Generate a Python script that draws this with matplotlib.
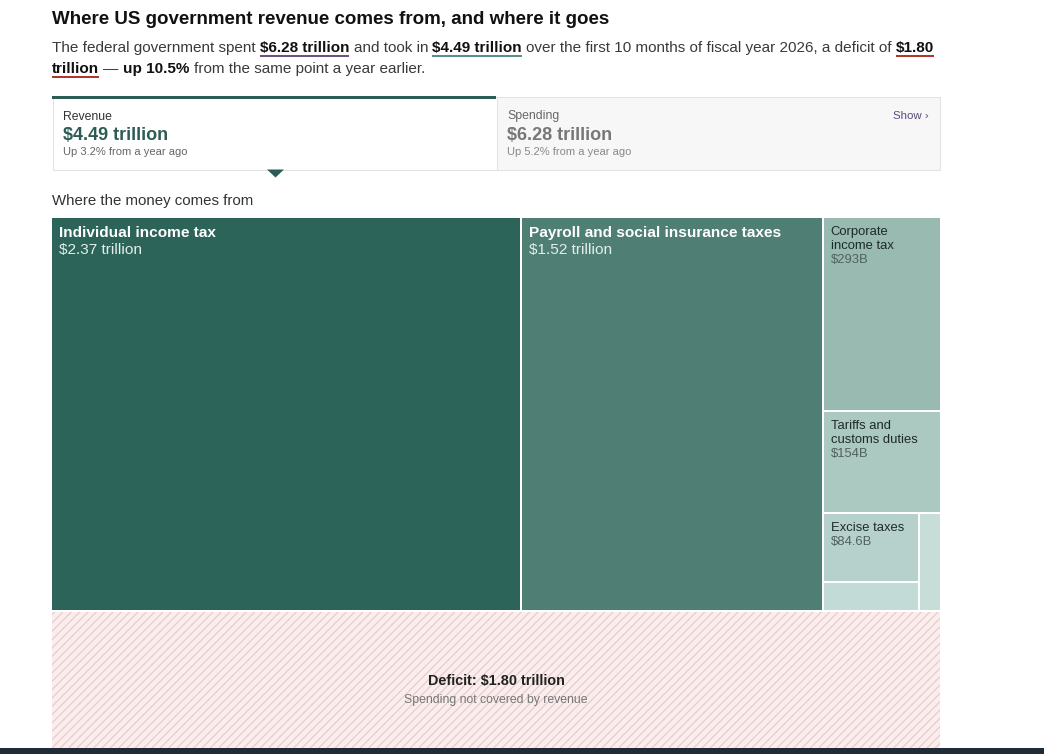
import matplotlib
matplotlib.use("Agg")
import matplotlib.pyplot as plt
from matplotlib.patches import Rectangle, Polygon

plt.rcParams['font.family'] = ['Liberation Sans', 'DejaVu Sans']
plt.rcParams['hatch.linewidth'] = 0.8

# data (trillions of dollars)
revenue_total = 4.49
spending_total = 6.28
deficit = 1.80
categories = ['Individual income tax', 'Payroll and social insurance taxes',
              'Corporate\nincome tax', 'Tariffs and\ncustoms duties',
              'Excise taxes', 'Miscellaneous receipts', 'Estate and gift taxes']
values = [2.37, 1.52, 0.293, 0.154, 0.0846, 0.036, 0.028]
value_labels = ['$2.37 trillion', '$1.52 trillion', '$293B', '$154B', '$84.6B', '', '']
colors = ['#2d6459', '#4f7f74', '#99bab1', '#abc8c1', '#b6d1cb', '#c3dbd6', '#c6ddd8']
big = [True, True, False, False, False, None, None]


def squarify(vals, x0, y0, x1, y1, ratio=(1 + 5 ** 0.5) / 2):
    # same idea as d3.treemapSquarify
    out = [None] * len(vals)
    value = sum(vals)
    i0 = i1 = 0
    n = len(vals)
    while i0 < n:
        dx, dy = x1 - x0, y1 - y0
        s = vals[i1]; i1 += 1
        mn = mx = s
        alpha = max(dy / dx, dx / dy) / (value * ratio)
        beta = s * s * alpha
        min_ratio = max(mx / beta, beta / mn)
        while i1 < n:
            v = vals[i1]
            s += v
            mn, mx = min(mn, v), max(mx, v)
            beta = s * s * alpha
            r = max(mx / beta, beta / mn)
            if r > min_ratio:
                s -= v
                break
            min_ratio = r
            i1 += 1
        idx = list(range(i0, i1))
        if dx < dy:
            ny = y0 + dy * s / value
            cx = x0
            for k in idx:
                w = (x1 - x0) * vals[k] / s
                out[k] = (cx, y0, cx + w, ny)
                cx += w
            y0 = ny
        else:
            nx = x0 + dx * s / value
            cy = y0
            for k in idx:
                h = (y1 - y0) * vals[k] / s
                out[k] = (x0, cy, nx, cy + h)
                cy += h
            x0 = nx
        value -= s
        i0 = i1
    return out


def px(size):
    return size * 0.72


fig = plt.figure(figsize=(10.44, 7.54), dpi=100)
ax = fig.add_axes([0, 0, 1, 1])
ax.set_xlim(0, 1044)
ax.set_ylim(754, 0)
ax.axis('off')
renderer = fig.canvas.get_renderer()


def width_of(t):
    return t.get_window_extent(renderer).width


# title
ax.text(52, 24.5, 'Where US government revenue comes from, and where it goes',
        fontsize=px(18.8), fontweight='bold', color='#111111', va='baseline')

# subtitle with bold / underlined parts
sub_size = px(15.3)
probe = ax.text(0, -50, 'a a', fontsize=sub_size)
probe2 = ax.text(0, -50, 'aa', fontsize=sub_size)
space_w = width_of(probe) - width_of(probe2)
probe.remove(); probe2.remove()

purple, teal, red = '#6a5283', '#5a9089', '#b0372c'
lines = [
    [('The federal government spent', False, None), (' ', False, None),
     ('$6.28 trillion', True, purple), (' ', False, None),
     ('and took in', False, None), (' ', False, None),
     ('$4.49 trillion', True, teal), (' ', False, None),
     ('over the first 10 months of fiscal year 2026, a deficit of', False, None),
     (' ', False, None), ('$1.80', True, red)],
    [('trillion', True, red), (' ', False, None), ('—', False, None), (' ', False, None),
     ('up 10.5%', True, None), (' ', False, None),
     ('from the same point a year earlier.', False, None)],
]
for li, parts in enumerate(lines):
    x = 52
    y = 52 + li * 21
    for txt, bold, uc in parts:
        if txt == ' ':
            x += space_w
            continue
        t = ax.text(x, y, txt, fontsize=sub_size, va='baseline',
                    fontweight='bold' if bold else 'normal',
                    color='#111111' if bold else '#3a3a3a')
        w = width_of(t)
        if uc:
            ax.plot([x, x + w], [y + 4, y + 4], color=uc, lw=2 * 0.72,
                    solid_capstyle='butt')
        x += w

# cards
ax.add_patch(Rectangle((52.5, 96.5), 444, 73, facecolor='white', edgecolor='#e2e2e2', lw=0.72))
ax.add_patch(Rectangle((496.5, 96.5), 443, 73, facecolor='#f7f7f7', edgecolor='#e2e2e2', lw=0.72))
ax.add_patch(Rectangle((52, 95.5), 444, 3, facecolor='#2d5c55', lw=0))
ax.add_patch(Polygon([(267, 169.5), (284, 169.5), (275.5, 177.5)], closed=True,
                     facecolor='#2d5c55', lw=0))
ax.text(63, 119.5, 'Revenue', fontsize=px(12.2), color='#333333', va='baseline')
ax.text(63, 139.5, '$4.49 trillion', fontsize=px(18), fontweight='bold',
        color='#2d5c55', va='baseline')
ax.text(63, 155, 'Up 3.2% from a year ago', fontsize=px(11.1), color='#666666', va='baseline')
ax.text(507, 119.5, 'Spending', fontsize=px(12.2), color='#666666', va='baseline')
ax.text(507, 139.5, '$6.28 trillion', fontsize=px(18), fontweight='bold',
        color='#777777', va='baseline')
ax.text(507, 155, 'Up 5.2% from a year ago', fontsize=px(11.1), color='#888888', va='baseline')
ax.text(929, 119, 'Show ›', fontsize=px(11.5), color='#5b4b7c', va='baseline', ha='right')

ax.text(52, 205, 'Where the money comes from', fontsize=px(15), color='#333333',
        va='baseline')

# treemap of revenue
tm_left, tm_top, tm_right, tm_bottom = 51, 217, 941, 611
rects = squarify(values, tm_left, tm_top, tm_right, tm_bottom)
for (x0, y0, x1, y1), c, name, vl, b in zip(rects, colors, categories, value_labels, big):
    ax.add_patch(Rectangle((x0 + 1, y0 + 1), x1 - x0 - 2, y1 - y0 - 2, facecolor=c, lw=0))
    if b is None:
        continue
    if b:
        ax.text(x0 + 8, y0 + 20, name, fontsize=px(15.4), fontweight='bold',
                color='white', va='baseline')
        ax.text(x0 + 8, y0 + 37, vl, fontsize=px(15.4), color='#e4eeeb', va='baseline')
    else:
        rows = name.split('\n')
        for k, row in enumerate(rows):
            ax.text(x0 + 8, y0 + 18 + 14 * k, row, fontsize=px(13), color='#1d2b28',
                    va='baseline')
        ax.text(x0 + 8, y0 + 18 + 14 * len(rows), vl, fontsize=px(13),
                color='#51625e', va='baseline')

# deficit block, same scale as revenue
px_per_t = (tm_right - tm_left) * (tm_bottom - tm_top) / revenue_total
d_h = deficit * px_per_t / (tm_right - tm_left)
ax.add_patch(Rectangle((52, tm_bottom + 1), 888, d_h, facecolor='#fcecec',
                       edgecolor='#ddcccc', hatch='////', lw=0))
d_mid = tm_bottom + 1 + d_h / 2
ax.text(496, d_mid - 5.5, 'Deficit: $1.80 trillion', fontsize=px(14.4), fontweight='bold',
        color='#222222', ha='center', va='baseline')
ax.text(496, d_mid + 12, 'Spending not covered by revenue', fontsize=px(12.2),
        color='#777777', ha='center', va='baseline')

# dark strip at the bottom edge
ax.add_patch(Rectangle((0, 748), 1044, 10, facecolor='#1f2b36', lw=0, zorder=5))

fig.savefig('out.png', dpi=100)
